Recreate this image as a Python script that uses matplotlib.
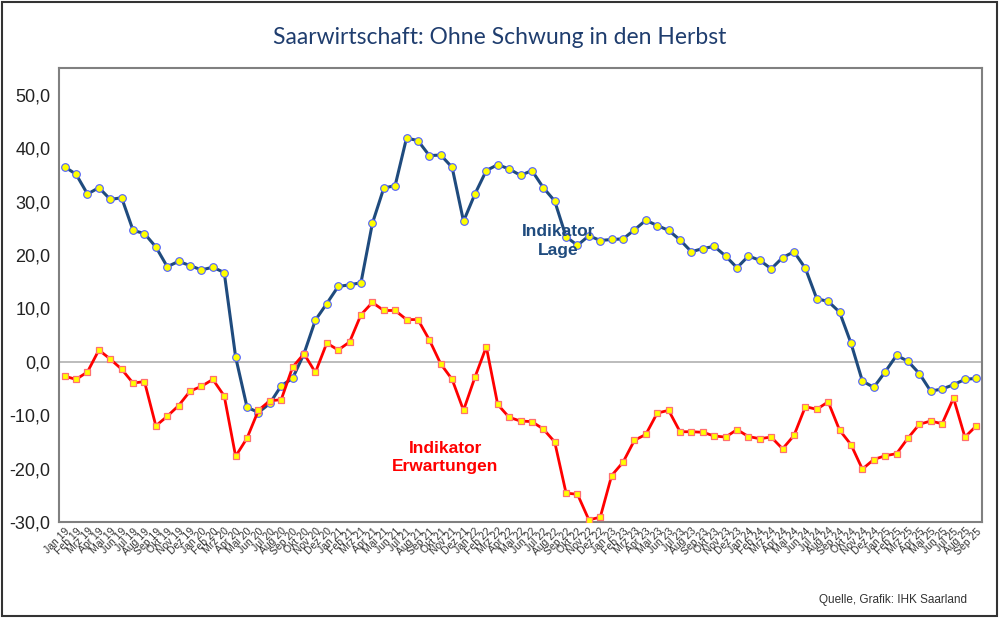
# Saarwirtschaft: Indikator Lage / Erwartungen, Jan 19 - Sep 25
import matplotlib
matplotlib.use('Agg')
import matplotlib.pyplot as plt
from matplotlib.patches import Rectangle

months = ['Jan', 'Feb', 'Mrz', 'Apr', 'Mai', 'Jun', 'Jul', 'Aug', 'Sep', 'Okt', 'Nov', 'Dez']
years = ['19', '20', '21', '22', '23', '24', '25']
labels = [m + ' ' + y for y in years for m in months][:81]  # bis Sep 25

lage = [36.5, 35.1, 31.4, 32.6, 30.4, 30.7, 24.6, 24.0, 21.5, 17.8, 18.8, 18.0,
        17.2, 17.7, 16.7, 0.9, -8.5, -9.5, -7.8, -4.5, -3.1, 1.5, 7.8, 10.9,
        14.1, 14.4, 14.8, 25.9, 32.5, 33.0, 41.9, 41.4, 38.6, 38.7, 36.4, 26.3,
        31.4, 35.8, 36.9, 36.1, 34.9, 35.8, 32.6, 30.1, 23.4, 21.8, 23.6, 22.7,
        22.9, 23.0, 24.7, 26.5, 25.5, 24.6, 22.8, 20.6, 21.2, 21.6, 19.8, 17.6,
        19.8, 19.0, 17.4, 19.5, 20.6, 17.5, 11.8, 11.3, 9.3, 3.5, -3.6, -4.8,
        -1.9, 1.2, 0.1, -2.2, -5.5, -5.1, -4.3, -3.3, -3.1]

erwartungen = [-2.7, -3.3, -1.9, 2.2, 0.5, -1.4, -4.0, -3.7, -12.0, -10.2, -8.2, -5.5,
               -4.6, -3.3, -6.4, -17.7, -14.3, -9.1, -7.3, -7.1, -1.0, 1.5, -2.0, 3.5,
               2.2, 3.7, 8.8, 11.1, 9.6, 9.6, 7.9, 7.9, 4.1, -0.4, -3.3, -9.1,
               -2.9, 2.8, -8.0, -10.4, -11.1, -11.2, -12.6, -15.0, -24.6, -24.8, -29.6, -29.1,
               -21.3, -18.8, -14.7, -13.6, -9.6, -9.1, -13.1, -13.1, -13.2, -13.9, -14.1, -12.7,
               -14.0, -14.4, -14.1, -16.3, -13.8, -8.4, -8.9, -7.5, -12.8, -15.5, -20.1, -18.3,
               -17.6, -17.2, -14.3, -11.7, -11.1, -11.6, -6.8, -14.1, -12.0]

yticks = [-30, -20, -10, 0, 10, 20, 30, 40, 50]

fig = plt.figure(figsize=(10, 6.18), dpi=100)
# Rahmen um die ganze Grafik
fig.patches.append(Rectangle((0.002, 0.003), 0.995, 0.994, transform=fig.transFigure,
                             fill=False, edgecolor='#333333', linewidth=1.5))

ax = fig.add_axes([0.059, 1 - 522 / 618, 0.923, (522 - 68) / 618])
x = list(range(len(labels)))

ax.axhline(0, color='#b0b0b0', linewidth=1.2, zorder=1)
ax.plot(x, lage, color='#1f4b7e', linewidth=2.2, marker='o', markersize=5.5,
        markerfacecolor='#ffff00', markeredgecolor='#5060ff', markeredgewidth=0.8, zorder=3)
ax.plot(x, erwartungen, color='#ff0000', linewidth=2.0, marker='s', markersize=5,
        markerfacecolor='#ffff00', markeredgecolor='#ff7070', markeredgewidth=0.9, zorder=3)

ax.set_xlim(-0.5, len(labels) - 0.5)
ax.set_ylim(-30, 55)
ax.set_yticks(yticks)
ax.set_yticklabels([('%.1f' % v).replace('.', ',') for v in yticks], fontsize=13,
                   family='Liberation Sans', color='#222222')
ax.set_xticks(x)
ax.set_xticklabels(labels, rotation=45, ha='right', rotation_mode='anchor',
                   fontsize=7.5, family='Liberation Sans', color='#333333')
ax.tick_params(axis='both', length=0, pad=6)
ax.tick_params(axis='x', pad=3)
for s in ax.spines.values():
    s.set_color('#808080')
    s.set_linewidth(1.5)

ax.text(43.3, 22.6, 'Indikator\nLage', color='#1f4b7e', fontsize=12.5, fontweight='bold',
        ha='center', va='center', family='Liberation Sans', linespacing=1.3)
ax.text(33.4, -17.9, 'Indikator\nErwartungen', color='#ff0000', fontsize=12.5, fontweight='bold',
        ha='center', va='center', family='Liberation Sans', linespacing=1.3)

fig.text(0.5, 1 - 38 / 618, 'Saarwirtschaft: Ohne Schwung in den Herbst', ha='center',
         va='center', fontsize=16.5, color='#1f3d6e', family='Lato')
fig.text(0.967, 1 - 600 / 618, 'Quelle, Grafik: IHK Saarland', ha='right', va='center',
         fontsize=8.5, color='#333333', family='Liberation Sans')

fig.savefig('out.png', dpi=100)
